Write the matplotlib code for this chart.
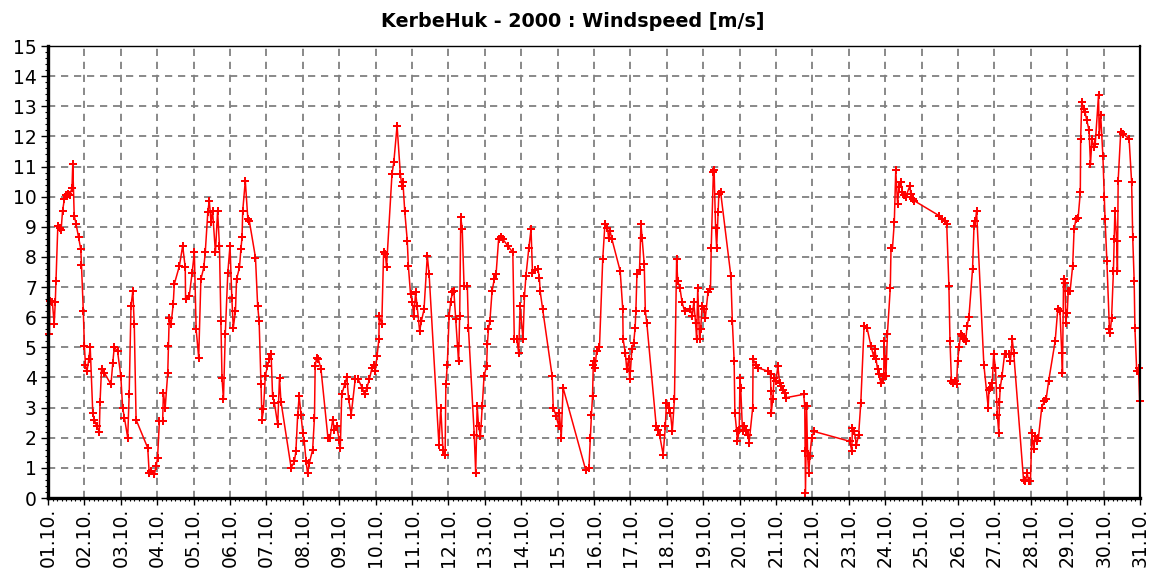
import matplotlib
matplotlib.use("Agg")
import matplotlib.pyplot as plt
from matplotlib.ticker import MultipleLocator, FixedLocator

# ---- data: time in days since 01.10.2000 00:00, windspeed in m/s ----
day_offset = [
    0.04, 0.05, 0.12, 0.17, 0.20, 0.22, 0.27, 0.33, 0.36, 0.40, 0.45, 0.50, 0.55, 0.60, 0.66, 0.68,
    0.72, 0.77, 0.84, 0.90, 0.92, 0.97, 1.00, 1.03, 1.07, 1.12, 1.16, 1.23, 1.27, 1.34, 1.41, 1.43,
    1.47, 1.55, 1.73, 1.78, 1.82, 1.91, 2.00, 2.05, 2.10, 2.19, 2.23, 2.28, 2.33, 2.37, 2.42, 2.74,
    2.78, 2.83, 2.92, 2.97, 3.01, 3.06, 3.15, 3.17, 3.22, 3.29, 3.31, 3.33, 3.38, 3.44, 3.47, 3.61,
    3.70, 3.77, 3.78, 3.88, 3.96, 4.02, 4.07, 4.14, 4.20, 4.28, 4.32, 4.39, 4.43, 4.48, 4.52, 4.60,
    4.66, 4.71, 4.75, 4.78, 4.82, 4.87, 4.94, 5.00, 5.05, 5.09, 5.15, 5.18, 5.26, 5.30, 5.33, 5.35,
    5.42, 5.49, 5.53, 5.70, 5.76, 5.80, 5.85, 5.88, 5.92, 5.97, 6.03, 6.08, 6.13, 6.17, 6.22, 6.31,
    6.36, 6.40, 6.68, 6.77, 6.81, 6.86, 6.90, 6.95, 7.00, 7.04, 7.09, 7.13, 7.18, 7.27, 7.32, 7.34,
    7.38, 7.43, 7.50, 7.69, 7.75, 7.82, 7.87, 7.93, 8.00, 8.03, 8.07, 8.15, 8.21, 8.26, 8.33, 8.44,
    8.52, 8.63, 8.70, 8.76, 8.83, 8.90, 8.95, 8.99, 9.04, 9.09, 9.10, 9.17, 9.22, 9.27, 9.30, 9.45,
    9.50, 9.59, 9.68, 9.72, 9.75, 9.80, 9.87, 9.90, 9.96, 10.01, 10.05, 10.10, 10.14, 10.21, 10.26, 10.33,
    10.42, 10.47, 10.74, 10.79, 10.85, 10.91, 10.93, 10.97, 11.02, 11.06, 11.11, 11.15, 11.20, 11.25, 11.28, 11.31,
    11.34, 11.38, 11.43, 11.52, 11.55, 11.71, 11.75, 11.79, 11.83, 11.88, 11.93, 11.98, 12.05, 12.07, 12.10, 12.14,
    12.20, 12.26, 12.31, 12.38, 12.44, 12.49, 12.63, 12.77, 12.81, 12.88, 12.93, 12.97, 13.05, 13.09, 13.13, 13.21,
    13.27, 13.31, 13.39, 13.46, 13.50, 13.52, 13.59, 13.85, 13.88, 13.96, 14.03, 14.05, 14.10, 14.15, 14.77, 14.86,
    14.90, 14.93, 14.96, 14.98, 15.00, 15.03, 15.07, 15.15, 15.24, 15.30, 15.37, 15.40, 15.44, 15.49, 15.72, 15.79,
    15.80, 15.86, 15.90, 15.95, 15.98, 16.00, 16.04, 16.09, 16.13, 16.15, 16.18, 16.25, 16.29, 16.32, 16.38, 16.41,
    16.45, 16.71, 16.75, 16.80, 16.90, 16.96, 16.99, 17.05, 17.10, 17.15, 17.21, 17.27, 17.30, 17.36, 17.42, 17.49,
    17.65, 17.70, 17.74, 17.79, 17.82, 17.85, 17.90, 17.93, 17.97, 18.02, 18.06, 18.13, 18.20, 18.22, 18.28, 18.30,
    18.34, 18.37, 18.41, 18.43, 18.48, 18.76, 18.80, 18.85, 18.87, 18.92, 18.94, 18.99, 19.01, 19.03, 19.08, 19.12,
    19.17, 19.23, 19.26, 19.36, 19.37, 19.45, 19.50, 19.78, 19.85, 19.86, 19.87, 19.91, 19.95, 20.00, 20.05, 20.10,
    20.14, 20.19, 20.24, 20.28, 20.76, 20.79, 20.80, 20.81, 20.84, 20.87, 20.90, 20.93, 20.98, 21.04, 22.03, 22.08,
    22.10, 22.15, 22.21, 22.27, 22.33, 22.42, 22.50, 22.61, 22.68, 22.72, 22.75, 22.79, 22.83, 22.88, 22.93, 22.96,
    22.97, 22.99, 23.02, 23.06, 23.14, 23.16, 23.20, 23.25, 23.29, 23.34, 23.38, 23.43, 23.47, 23.52, 23.56, 23.68,
    23.70, 23.75, 23.79, 24.48, 24.57, 24.63, 24.69, 24.75, 24.78, 24.82, 24.87, 24.93, 24.96, 24.99, 25.03, 25.07,
    25.12, 25.16, 25.21, 25.25, 25.30, 25.40, 25.44, 25.48, 25.51, 25.71, 25.83, 25.85, 25.89, 25.94, 25.98, 26.03,
    26.08, 26.12, 26.14, 26.16, 26.21, 26.28, 26.33, 26.40, 26.44, 26.49, 26.53, 26.80, 26.85, 26.90, 26.94, 26.99,
    27.03, 27.08, 27.12, 27.17, 27.21, 27.30, 27.37, 27.42, 27.49, 27.67, 27.74, 27.80, 27.85, 27.87, 27.90, 27.94,
    27.96, 28.00, 28.03, 28.08, 28.15, 28.19, 28.24, 28.30, 28.36, 28.37, 28.40, 28.45, 28.49, 28.54, 28.60, 28.64,
    28.68, 28.73, 28.77, 28.86, 28.88, 28.92, 28.98, 29.02, 29.04, 29.09, 29.16, 29.18, 29.22, 29.27, 29.29, 29.31,
    29.36, 29.38, 29.40, 29.47, 29.54, 29.70, 29.77, 29.80, 29.84, 29.86, 29.91, 29.96, 29.99,
]

windspeed = [
    5.43, 6.54, 6.50, 5.77, 6.50, 7.20, 9.04, 8.95, 8.90, 9.53, 9.92, 10.05, 10.10, 10.05, 10.30, 11.09,
    9.37, 9.10, 8.65, 8.26, 7.73, 6.20, 5.04, 4.40, 4.20, 4.60, 5.00, 2.83, 2.60, 2.38, 2.20, 3.20,
    4.27, 4.15, 3.77, 4.49, 5.00, 4.88, 4.05, 3.00, 2.66, 2.00, 3.44, 6.37, 6.87, 5.76, 2.60, 1.66,
    0.83, 0.90, 0.78, 1.05, 1.33, 2.55, 2.55, 3.50, 3.00, 4.16, 5.04, 5.99, 5.76, 6.43, 7.10, 7.70,
    8.37, 7.65, 6.60, 6.70, 7.48, 8.15, 5.60, 4.66, 7.26, 7.65, 8.15, 9.48, 9.87, 9.15, 9.53, 8.15,
    9.53, 8.37, 5.88, 3.99, 3.27, 5.43, 7.48, 8.37, 6.65, 5.65, 6.20, 7.26, 7.65, 8.26, 8.65, 9.53,
    10.53, 9.26, 9.20, 7.98, 6.37, 5.88, 3.77, 2.60, 2.94, 4.05, 4.38, 4.60, 4.77, 3.38, 3.16, 2.44,
    3.99, 3.20, 1.00, 1.22, 1.55, 2.77, 3.38, 2.77, 2.16, 1.88, 1.22, 0.83, 1.16, 1.60, 2.66, 4.38,
    4.66, 4.60, 4.27, 2.00, 2.00, 2.60, 2.27, 2.38, 1.94, 1.66, 3.44, 3.77, 4.00, 3.27, 2.77, 3.94,
    3.94, 3.66, 3.44, 3.66, 3.94, 4.32, 4.43, 4.21, 4.71, 5.27, 6.04, 5.76, 8.15, 8.10, 7.65, 10.75,
    11.14, 12.36, 10.75, 10.37, 10.50, 9.53, 8.54, 7.70, 6.76, 6.49, 6.04, 6.82, 6.37, 5.54, 5.88, 6.26,
    8.04, 7.43, 1.77, 3.00, 1.60, 1.44, 3.77, 4.43, 6.04, 6.49, 6.82, 6.87, 5.93, 5.04, 4.55, 6.04,
    9.31, 8.92, 7.04, 7.04, 5.65, 2.10, 0.83, 3.05, 2.38, 2.05, 3.05, 4.05, 4.38, 5.10, 5.60, 5.88,
    6.87, 7.26, 7.43, 8.60, 8.65, 8.60, 8.37, 8.15, 5.27, 5.27, 4.82, 6.37, 5.27, 6.70, 7.37, 8.30,
    8.92, 7.48, 7.55, 7.60, 7.30, 6.87, 6.26, 4.05, 3.00, 2.72, 2.38, 2.83, 2.00, 3.66, 0.94, 0.99,
    2.00, 2.77, 3.38, 4.43, 4.55, 4.32, 4.88, 5.00, 7.93, 9.09, 8.97, 8.64, 8.86, 8.60, 7.53, 6.26,
    5.27, 4.82, 4.27, 4.60, 3.94, 4.20, 4.93, 5.15, 5.65, 6.20, 7.43, 7.55, 9.09, 8.64, 7.76, 6.20,
    5.82, 2.38, 2.27, 2.10, 1.44, 2.38, 3.16, 3.00, 2.83, 2.21, 3.27, 7.93, 7.20, 6.98, 6.49, 6.20,
    6.26, 6.04, 6.49, 5.82, 5.27, 6.98, 5.27, 5.60, 6.37, 6.26, 5.99, 6.82, 6.93, 8.30, 10.81, 10.87,
    8.97, 8.30, 9.48, 10.09, 10.14, 7.37, 5.88, 4.55, 2.83, 2.21, 1.88, 2.27, 3.99, 3.66, 2.21, 2.38,
    2.27, 2.10, 1.83, 3.00, 4.60, 4.43, 4.32, 4.21, 4.10, 3.55, 2.83, 3.27, 3.99, 3.88, 4.38, 3.82,
    3.71, 3.60, 3.49, 3.33, 3.44, 3.05, 1.55, 0.17, 3.05, 1.39, 0.83, 1.39, 2.00, 2.21, 1.88, 1.55,
    2.33, 2.21, 1.77, 2.10, 3.16, 5.71, 5.65, 5.04, 4.71, 4.93, 4.60, 4.27, 4.10, 3.82, 3.94, 4.05,
    5.20, 4.60, 4.05, 5.43, 6.98, 8.30, 8.30, 9.15, 10.87, 9.76, 10.31, 10.48, 10.15, 10.04, 9.98, 10.37,
    10.09, 9.93, 9.87, 9.37, 9.26, 9.20, 9.09, 7.04, 5.21, 3.88, 3.82, 3.88, 3.77, 4.55, 5.00, 5.43,
    5.38, 5.27, 5.21, 5.71, 6.00, 7.60, 9.04, 9.20, 9.53, 4.43, 3.00, 3.60, 3.66, 3.82, 4.77, 4.32,
    2.77, 2.16, 3.20, 3.66, 4.05, 4.77, 4.77, 4.77, 4.55, 5.27, 4.82, 0.61, 0.55, 0.83, 0.55, 0.55,
    2.16, 1.61, 2.05, 1.88, 2.00, 3.00, 3.22, 3.27, 3.88, 5.21, 6.26, 6.20, 4.82, 4.16, 7.26, 7.15,
    5.82, 6.15, 6.87, 6.87, 7.70, 8.92, 9.26, 9.30, 10.14, 11.92, 13.14, 12.92, 12.80, 12.53, 12.20, 11.08,
    11.92, 11.64, 11.75, 13.36, 12.03, 12.70, 11.36, 9.98, 9.26, 7.87, 5.60, 5.49, 5.99, 7.54, 8.60, 9.53,
    8.54, 7.54, 10.53, 12.14, 12.08, 11.92, 10.48, 8.65, 7.20, 5.65, 4.21, 4.30, 3.22,
]

date_labels = [
    "01.10.", "02.10.", "03.10.", "04.10.", "05.10.", "06.10.", "07.10.", "08.10.",
    "09.10.", "10.10.", "11.10.", "12.10.", "13.10.", "14.10.", "15.10.", "16.10.",
    "17.10.", "18.10.", "19.10.", "20.10.", "21.10.", "22.10.", "23.10.", "24.10.",
    "25.10.", "26.10.", "27.10.", "28.10.", "29.10.", "30.10.", "31.10.",
]
y_ticks = list(range(0, 16))
title = "KerbeHuk - 2000 : Windspeed [m/s]"

# ---- figure ----
fig = plt.figure(figsize=(11.52, 5.76), dpi=100)
ax = fig.add_axes([48 / 1152, 78 / 576, (1140 - 48) / 1152, (530 - 78) / 576])

ax.plot(day_offset, windspeed, color="#FF0000", lw=1.1, marker="P",
        markersize=5.2, markeredgewidth=0.0, zorder=3, clip_on=False)

ax.set_xlim(0, len(date_labels) - 1)
ax.set_ylim(0, 15)

ax.xaxis.set_major_locator(FixedLocator(range(len(date_labels))))
ax.set_xticklabels(date_labels, rotation=90)
ax.xaxis.set_minor_locator(MultipleLocator(0.125))
ax.set_yticks(y_ticks)
ax.yaxis.set_minor_locator(MultipleLocator(0.2))

ax.tick_params(axis="both", which="major", direction="out", length=5, width=1.0,
               labelsize=13.5, color="black")
ax.tick_params(axis="both", which="minor", direction="out", length=2.5, width=0.8,
               color="black")
ax.tick_params(axis="x", which="major", pad=2)
ax.tick_params(axis="y", which="major", pad=3)

ax.grid(True, which="major", color="#808080", lw=1.3, ls=(0, (4.0, 3.2)), zorder=1)

ax.spines["left"].set_linewidth(2.4)
ax.spines["bottom"].set_linewidth(2.4)
ax.spines["top"].set_linewidth(1.0)
ax.spines["right"].set_linewidth(1.6)
for s in ax.spines.values():
    s.set_color("black")
    s.set_zorder(4)

fig.text(0.497, 0.962, title, ha="center", va="center", fontsize=13.8, fontweight="bold")

fig.savefig("out.png", dpi=100)
